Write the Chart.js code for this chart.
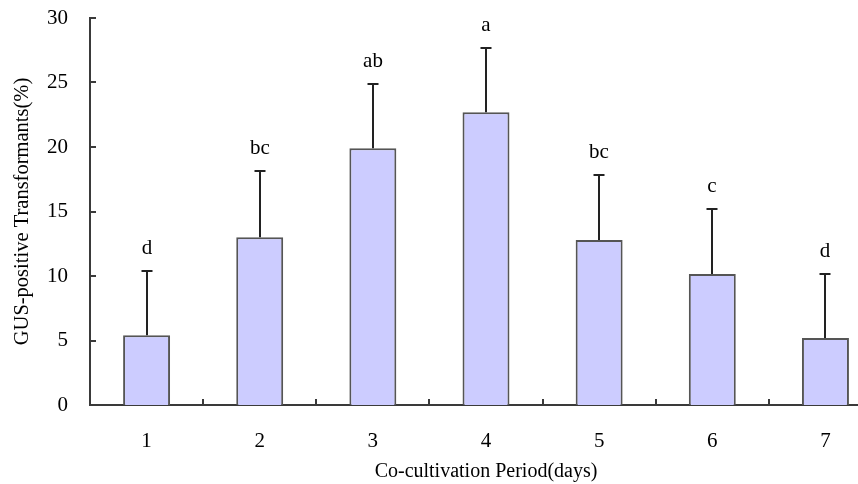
<!DOCTYPE html>
<html>
<head>
<meta charset="utf-8">
<script src="https://cdn.jsdelivr.net/npm/chart.js@4/dist/chart.umd.min.js"></script>
<style>
  html, body { margin: 0; padding: 0; background: #fff; overflow: hidden; }
  #wrap { width: 884px; height: 484px; }
</style>
</head>
<body>
<div id="wrap"><canvas id="c" width="884" height="484"></canvas></div>
<script>
// Co-cultivation period (days)
const days = ['1', '2', '3', '4', '5', '6', '7'];
// Mean GUS-positive transformants (%)
const meanPct = [5.4, 13.0, 19.9, 22.7, 12.8, 10.15, 5.2];
// Standard deviation (upper error bar)
const sdPct = [4.95, 5.15, 5.0, 4.95, 5.05, 5.05, 4.95];
// Significance groups
const groups = ['d', 'bc', 'ab', 'a', 'bc', 'c', 'd'];
// Y axis ticks
const yTicks = [0, 5, 10, 15, 20, 25, 30];

const serif = '"Liberation Serif", "Times New Roman", serif';
const ink = '#3a3a3a';

// Inward tick marks, upper error bars and group letters
const overlay = {
  id: 'overlay',
  afterDatasetsDraw(chart) {
    const { ctx, scales: { x, y }, chartArea } = chart;
    ctx.save();
    ctx.strokeStyle = ink;
    ctx.lineWidth = 2;

    // y ticks pointing into the plot
    yTicks.forEach(v => {
      const py = Math.round(y.getPixelForValue(v));
      ctx.beginPath();
      ctx.moveTo(chartArea.left, py);
      ctx.lineTo(chartArea.left + 6, py);
      ctx.stroke();
    });

    // x ticks between categories, pointing up
    for (let i = 1; i < days.length; i++) {
      const px = Math.round((x.getPixelForValue(i - 1) + x.getPixelForValue(i)) / 2);
      ctx.beginPath();
      ctx.moveTo(px, chartArea.bottom);
      ctx.lineTo(px, chartArea.bottom - 6);
      ctx.stroke();
    }

    // error bars and letters
    ctx.strokeStyle = '#222';
    ctx.fillStyle = '#000';
    ctx.font = '21px ' + serif;
    ctx.textAlign = 'center';
    ctx.textBaseline = 'alphabetic';
    meanPct.forEach((m, i) => {
      const px = Math.round(x.getPixelForValue(i));
      const y0 = y.getPixelForValue(m);
      const y1 = Math.round(y.getPixelForValue(m + sdPct[i]));
      ctx.beginPath();
      ctx.moveTo(px, y0);
      ctx.lineTo(px, y1);
      ctx.moveTo(px - 5.5, y1);
      ctx.lineTo(px + 5.5, y1);
      ctx.stroke();
      ctx.fillText(groups[i], px, y1 - 17);
    });
    ctx.restore();
  }
};

new Chart(document.getElementById('c'), {
  type: 'bar',
  data: {
    labels: days,
    datasets: [{
      data: meanPct,
      backgroundColor: '#CCCCFF',
      borderColor: '#555555',
      borderWidth: 2,
      barPercentage: 0.415,
      categoryPercentage: 1.0
    }]
  },
  options: {
    responsive: false,
    animation: false,
    devicePixelRatio: 1,
    layout: { padding: { top: 18, right: 2, left: 0, bottom: 0 } },
    plugins: { legend: { display: false }, tooltip: { enabled: false } },
    scales: {
      x: {
        grid: { display: false, drawTicks: false },
        border: { display: true, color: ink, width: 2 },
        ticks: { color: '#000', font: { family: serif, size: 21 }, padding: 24, maxRotation: 0, autoSkip: false },
        title: { display: true, text: 'Co-cultivation Period(days)', color: '#000',
                 font: { family: serif, size: 20 }, padding: { top: 0, bottom: 0 } },
        afterFit(s) { s.height = 79; s.paddingLeft = 0; s.paddingRight = 0; }
      },
      y: {
        min: 0, max: 30,
        grid: { display: false, drawTicks: false },
        border: { display: true, color: ink, width: 2 },
        ticks: { stepSize: 5, color: '#000', font: { family: serif, size: 21 }, padding: 22 },
        title: { display: true, text: 'GUS-positive Transformants(%)', color: '#000',
                 font: { family: serif, size: 20.5 }, padding: { top: 10, bottom: 0 } },
        afterFit(s) { s.width = 90; s.paddingTop = 0; s.paddingBottom = 0; }
      }
    }
  },
  plugins: [overlay]
});
</script>
</body>
</html>
